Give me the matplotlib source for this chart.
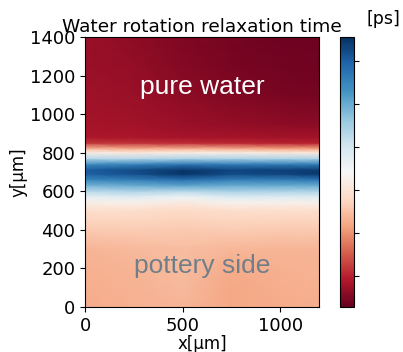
import matplotlib
matplotlib.use("Agg")
import matplotlib.pyplot as plt
import numpy as np

# grid of relaxation times [ps]
x_um = [0, 250, 500, 750, 1000, 1200]
y_um = [0, 100, 200, 300, 400, 450, 500, 540, 570, 600, 630, 660, 690, 710,
        740, 770, 800, 820, 850, 880, 950, 1100, 1250, 1400]
tau_ps = [
    [2.25, 2.30, 2.36, 2.22, 2.26, 2.28],  # 0
    [2.28, 2.34, 2.40, 2.20, 2.28, 2.30],  # 100
    [2.30, 2.36, 2.42, 2.26, 2.30, 2.32],  # 200
    [2.36, 2.40, 2.46, 2.38, 2.36, 2.36],  # 300
    [2.60, 2.62, 2.60, 2.62, 2.60, 2.60],  # 400
    [2.72, 2.74, 2.70, 2.74, 2.72, 2.72],  # 450
    [2.86, 2.88, 2.80, 2.88, 2.86, 2.86],  # 500
    [3.20, 3.24, 3.10, 3.30, 3.25, 3.24],  # 540
    [3.70, 3.80, 3.55, 3.85, 3.80, 3.80],  # 570
    [4.30, 4.40, 4.30, 4.45, 4.40, 4.40],  # 600
    [4.90, 5.00, 5.10, 5.00, 5.00, 5.00],  # 630
    [5.50, 5.60, 5.80, 5.60, 5.60, 5.70],  # 660
    [6.00, 6.20, 6.50, 6.25, 6.30, 6.45],  # 690
    [6.05, 6.25, 6.45, 6.30, 6.35, 6.40],  # 710
    [5.40, 5.50, 5.70, 5.60, 5.60, 5.60],  # 740
    [4.30, 4.30, 4.40, 4.40, 4.40, 4.40],  # 770
    [3.20, 3.10, 3.20, 3.20, 3.10, 3.10],  # 800
    [2.40, 2.30, 2.35, 2.30, 2.20, 2.20],  # 820
    [1.20, 1.15, 1.10, 1.05, 1.00, 1.00],  # 850
    [0.85, 0.85, 0.82, 0.80, 0.78, 0.78],  # 880
    [0.80, 0.78, 0.72, 0.65, 0.60, 0.58],  # 950
    [0.75, 0.70, 0.62, 0.52, 0.45, 0.42],  # 1100
    [0.72, 0.66, 0.55, 0.45, 0.38, 0.36],  # 1250
    [0.70, 0.62, 0.50, 0.42, 0.35, 0.34],  # 1400
]
cbar_ticks = [1, 2, 3, 4, 5, 6]
tau_min, tau_max = 0.28, 6.57

fig = plt.figure(figsize=(4.03, 3.52), dpi=100)
ax = fig.add_axes([0.211, 0.128, 0.581, 0.767])
cax = fig.add_axes([0.843, 0.128, 0.036, 0.767])

mesh = ax.pcolormesh(x_um, y_um, np.array(tau_ps), cmap="RdBu", shading="gouraud",
                     vmin=tau_min, vmax=tau_max)
ax.set_xlim(0, 1200)
ax.set_ylim(0, 1400)
ax.set_xticks([0, 500, 1000])
ax.set_yticks(range(0, 1401, 200))
ax.tick_params(labelsize=13)
ax.set_xlabel("x[μm]", fontsize=12, labelpad=0)
ax.set_ylabel("y[μm]", fontsize=12, labelpad=2)
ax.set_title("Water rotation relaxation time", fontsize=13.3, pad=3.5)

ax.text(600, 1140, "pure water", color="white", fontsize=19, family="Liberation Sans",
        ha="center", va="center")
ax.text(600, 210, "pottery side", color="#6f7f8a", fontsize=19, family="Liberation Sans",
        ha="center", va="center")

cb = fig.colorbar(mesh, cax=cax, ticks=cbar_ticks)
cb.ax.set_yticklabels([])
fig.text(0.952, 0.946, "[ps]", fontsize=12.5, ha="center", va="center")

fig.savefig("out.png", dpi=100)
